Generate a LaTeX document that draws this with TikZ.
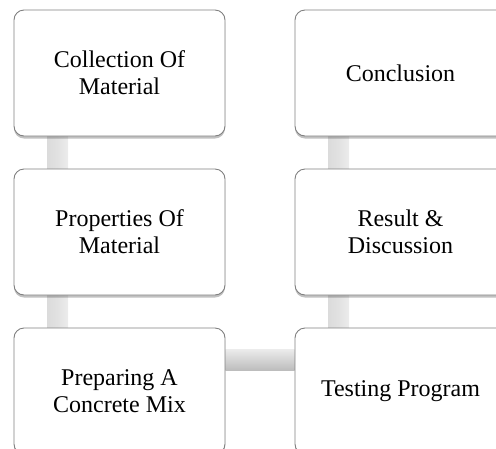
\documentclass[tikz,border=0pt]{standalone}
\usepackage{fontspec}
\setmainfont{Liberation Serif}
\usetikzlibrary{shadows,backgrounds}
\definecolor{boxline}{HTML}{808080}
\definecolor{barlight}{HTML}{ECECEC}
\definecolor{bardark}{HTML}{D2D2D2}
\tikzset{
  stepbox/.style={draw=boxline, line width=0.9pt, fill=white, rounded corners=10pt,
    minimum width=211pt, minimum height=126pt, align=center,
    font=\fontsize{24}{27}\selectfont, text=black,
    drop shadow={shadow xshift=0pt, shadow yshift=-2.5pt, opacity=0.35, fill=black!70}},
  vbar/.style={left color=bardark!80, right color=barlight, middle color=barlight!60!bardark},
  hbar/.style={top color=barlight, bottom color=bardark!90!black}
}
\begin{document}
\begin{tikzpicture}[x=1pt,y=-1pt]
\useasboundingbox (0,0) rectangle (496,448);
\node[stepbox] (b1) at (119.5,73)  {Collection Of\\Material};
\node[stepbox] (b2) at (119.5,232) {Properties Of\\Material};
\node[stepbox] (b3) at (119.5,391) {Preparing A\\Concrete Mix};
\node[stepbox] (b4) at (400.5,73)  {Conclusion};
\node[stepbox] (b5) at (400.5,232) {Result \&\\Discussion};
\node[stepbox] (b6) at (400.5,391) {Testing Program};
\begin{scope}[on background layer]
  \shade[vbar] ([xshift=-72.5pt]b1.south) rectangle ([xshift=-51.5pt]b2.north);
  \shade[vbar] ([xshift=-72.5pt]b2.south) rectangle ([xshift=-51.5pt]b3.north);
  \shade[hbar] ([yshift=42pt]b3.east) rectangle ([yshift=21pt]b6.west);
  \shade[vbar] ([xshift=-72.5pt]b6.north) rectangle ([xshift=-51.5pt]b5.south);
  \shade[vbar] ([xshift=-72.5pt]b5.north) rectangle ([xshift=-51.5pt]b4.south);
\end{scope}
\end{tikzpicture}
\end{document}
